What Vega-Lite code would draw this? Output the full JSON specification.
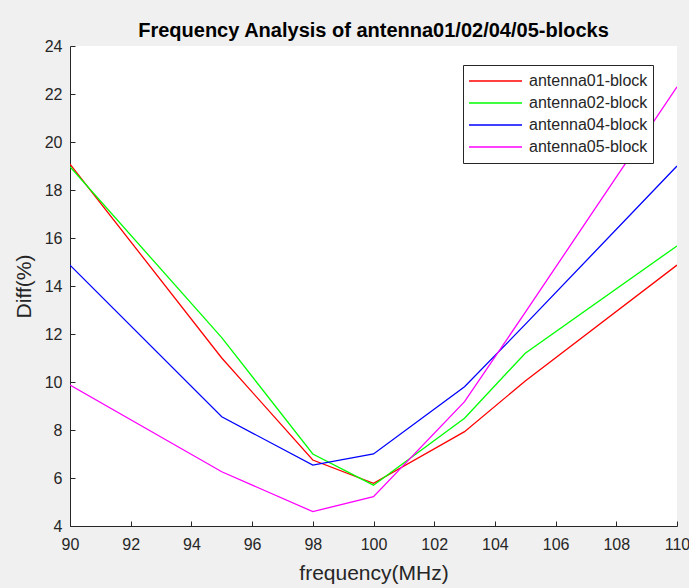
{
  "$schema": "https://vega.github.io/schema/vega-lite/v6.json",
  "width": 607,
  "height": 480,
  "autosize": {"type": "none"},
  "padding": {"left": 70, "top": 46, "right": 12, "bottom": 62},
  "background": "#f0f0f0",
  "title": {
    "text": "Frequency Analysis of antenna01/02/04/05-blocks",
    "fontSize": 20,
    "fontWeight": "bold",
    "font": "Liberation Sans",
    "color": "#000000",
    "anchor": "middle",
    "offset": -3
  },
  "config": {
    "view": {"fill": "white", "stroke": null},
    "axis": {
      "labelFont": "Liberation Sans",
      "titleFont": "Liberation Sans",
      "labelFontSize": 16,
      "titleFontSize": 21,
      "titleFontWeight": "normal",
      "labelColor": "#262626",
      "titleColor": "#262626",
      "domainColor": "#262626",
      "tickColor": "#262626",
      "domainWidth": 1,
      "tickWidth": 1,
      "grid": false
    }
  },
  "data": {
    "values": [
      {"f": 90, "diff": 19.08, "series": "antenna01-block"},
      {"f": 95, "diff": 11.0, "series": "antenna01-block"},
      {"f": 98, "diff": 6.75, "series": "antenna01-block"},
      {"f": 100, "diff": 5.78, "series": "antenna01-block"},
      {"f": 103, "diff": 7.93, "series": "antenna01-block"},
      {"f": 105, "diff": 10.04, "series": "antenna01-block"},
      {"f": 110, "diff": 14.87, "series": "antenna01-block"},
      {"f": 90, "diff": 18.97, "series": "antenna02-block"},
      {"f": 95, "diff": 11.85, "series": "antenna02-block"},
      {"f": 98, "diff": 7.0, "series": "antenna02-block"},
      {"f": 100, "diff": 5.7, "series": "antenna02-block"},
      {"f": 103, "diff": 8.49, "series": "antenna02-block"},
      {"f": 105, "diff": 11.2, "series": "antenna02-block"},
      {"f": 110, "diff": 15.67, "series": "antenna02-block"},
      {"f": 90, "diff": 14.87, "series": "antenna04-block"},
      {"f": 95, "diff": 8.55, "series": "antenna04-block"},
      {"f": 98, "diff": 6.54, "series": "antenna04-block"},
      {"f": 100, "diff": 7.0, "series": "antenna04-block"},
      {"f": 103, "diff": 9.8, "series": "antenna04-block"},
      {"f": 105, "diff": 12.4, "series": "antenna04-block"},
      {"f": 110, "diff": 19.0, "series": "antenna04-block"},
      {"f": 90, "diff": 9.87, "series": "antenna05-block"},
      {"f": 95, "diff": 6.26, "series": "antenna05-block"},
      {"f": 98, "diff": 4.6, "series": "antenna05-block"},
      {"f": 100, "diff": 5.22, "series": "antenna05-block"},
      {"f": 103, "diff": 9.18, "series": "antenna05-block"},
      {"f": 105, "diff": 12.9, "series": "antenna05-block"},
      {"f": 110, "diff": 22.3, "series": "antenna05-block"}
    ]
  },
  "mark": {"type": "line", "strokeWidth": 1.3, "clip": true},
  "encoding": {
    "x": {
      "field": "f",
      "type": "quantitative",
      "title": "frequency(MHz)",
      "scale": {"domain": [90, 110], "nice": false, "zero": false},
      "axis": {
        "values": [90, 92, 94, 96, 98, 100, 102, 104, 106, 108, 110],
        "tickSize": -5,
        "labelPadding": 15,
        "titlePadding": 10,
        "labelFlush": false,
        "labelOverlap": false
      }
    },
    "y": {
      "field": "diff",
      "type": "quantitative",
      "title": "Diff(%)",
      "scale": {"domain": [4, 24], "nice": false, "zero": false},
      "axis": {
        "values": [4, 6, 8, 10, 12, 14, 16, 18, 20, 22, 24],
        "tickSize": -5,
        "labelPadding": 13,
        "titlePadding": 10,
        "labelFlush": false,
        "labelOverlap": false
      }
    },
    "color": {
      "field": "series",
      "type": "nominal",
      "title": null,
      "scale": {
        "domain": ["antenna01-block", "antenna02-block", "antenna04-block", "antenna05-block"],
        "range": ["#ff0000", "#00ff00", "#0000ff", "#ff00ff"]
      },
      "legend": {
        "orient": "none",
        "legendX": 393,
        "legendY": 19,
        "fillColor": "white",
        "strokeColor": "#262626",
        "padding": 5,
        "symbolType": "stroke",
        "symbolSize": 2809,
        "symbolStrokeWidth": 1.3,
        "clipHeight": 22,
        "rowPadding": 0,
        "labelFont": "Liberation Sans",
        "labelFontSize": 16,
        "labelColor": "#262626",
        "labelOffset": 6
      }
    }
  }
}
